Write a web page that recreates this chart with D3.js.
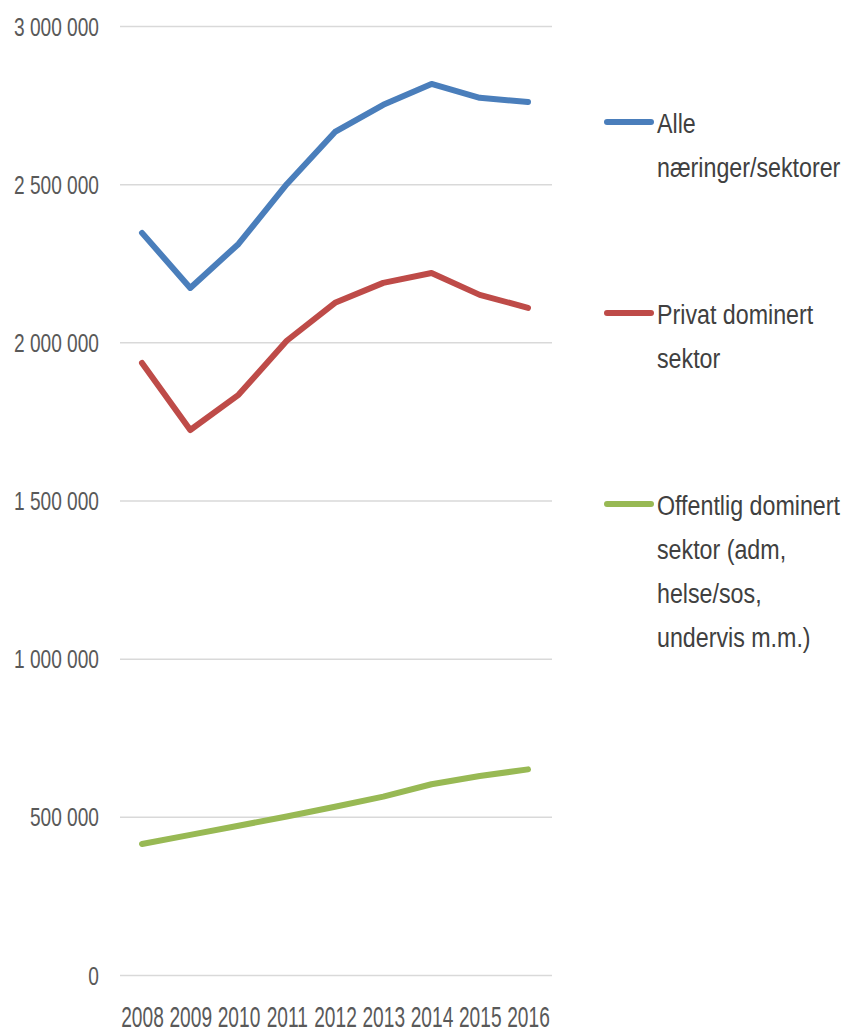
<!DOCTYPE html>
<html>
<head>
<meta charset="utf-8">
<script src="https://cdn.jsdelivr.net/npm/d3@7"></script>
<style>
  html, body { margin: 0; padding: 0; background: #fff; }
  svg { display: block; }
  text { font-family: "Liberation Sans", Arial, sans-serif; }
</style>
</head>
<body>
<svg id="chart" width="848" height="1034"></svg>
<script>
const years = ["2008","2009","2010","2011","2012","2013","2014","2015","2016"];
const alle = [2346000, 2172000, 2311000, 2500000, 2665000, 2751000, 2817000, 2773000, 2760000];
const privat = [1935000, 1723000, 1834000, 2005000, 2125000, 2188000, 2219000, 2150000, 2109000];
const offentlig = [414000, 443000, 472000, 501000, 532000, 564000, 603000, 629000, 650000];
const yTicks = [0, 500000, 1000000, 1500000, 2000000, 2500000, 3000000];
const seriesNames = [
  ["Alle", "næringer/sektorer"],
  ["Privat dominert", "sektor"],
  ["Offentlig dominert", "sektor (adm,", "helse/sos,", "undervis m.m.)"]
];
const colors = ["#4A7EBB", "#BE4B48", "#98B954"];

const svg = d3.select("#chart");
const x = d3.scalePoint().domain(years).range([142, 528]);
const y = d3.scaleLinear().domain([0, 3000000]).range([975, 26]);
const fmt = v => d3.format(",")(v).replace(/,/g, " ");

// Y axis with gridlines
const ySx = 0.765;
const yAxis = svg.append("g")
  .attr("transform", "translate(120,0)")
  .call(d3.axisLeft(y).tickValues(yTicks).tickFormat(fmt).tickSize(-432).tickPadding(0));
yAxis.select(".domain").remove();
yAxis.selectAll(".tick line").attr("stroke", "#D9D9D9").attr("stroke-width", 1.5);
yAxis.selectAll(".tick text")
  .attr("fill", "#595959")
  .attr("font-size", 25)
  .attr("x", -21 / ySx)
  .attr("dy", "0.36em")
  .attr("transform", `scale(${ySx},1)`)
  .style("font-family", "'Liberation Sans', Arial, sans-serif");

// X axis labels
const xSx = 0.66;
const xAxis = svg.append("g")
  .attr("transform", "translate(0,975)")
  .call(d3.axisBottom(x).tickSize(0));
xAxis.select(".domain").remove();
xAxis.selectAll(".tick text")
  .attr("fill", "#595959")
  .attr("font-size", 29)
  .attr("y", 52)
  .attr("dy", 0)
  .attr("transform", `scale(${xSx},1)`)
  .style("font-family", "'Liberation Sans', Arial, sans-serif");

// Lines
const allSeries = [alle, privat, offentlig];
const line = d3.line().x((d, i) => x(years[i])).y(d => y(d));
svg.selectAll("path.series")
  .data(allSeries)
  .join("path")
  .attr("class", "series")
  .attr("d", d => line(d))
  .attr("fill", "none")
  .attr("stroke", (d, i) => colors[i])
  .attr("stroke-width", 6)
  .attr("stroke-linejoin", "round")
  .attr("stroke-linecap", "round");

// Legend
const legendY = [122, 313, 504];
const lSx = 0.83;
const legend = svg.append("g");
seriesNames.forEach((lines, i) => {
  const g = legend.append("g").attr("transform", `translate(0,${legendY[i]})`);
  g.append("line")
    .attr("x1", 607).attr("x2", 651)
    .attr("y1", 0).attr("y2", 0)
    .attr("stroke", colors[i]).attr("stroke-width", 6).attr("stroke-linecap", "round");
  const t = g.append("g")
    .attr("transform", `translate(657,11) scale(${lSx},1)`)
    .append("text")
    .attr("x", 0)
    .attr("y", 0)
    .attr("fill", "#404040")
    .attr("font-size", 28);
  lines.forEach((ln, j) => {
    t.append("tspan").attr("x", 0).attr("dy", j === 0 ? 0 : 44).text(ln);
  });
});
</script>
</body>
</html>
